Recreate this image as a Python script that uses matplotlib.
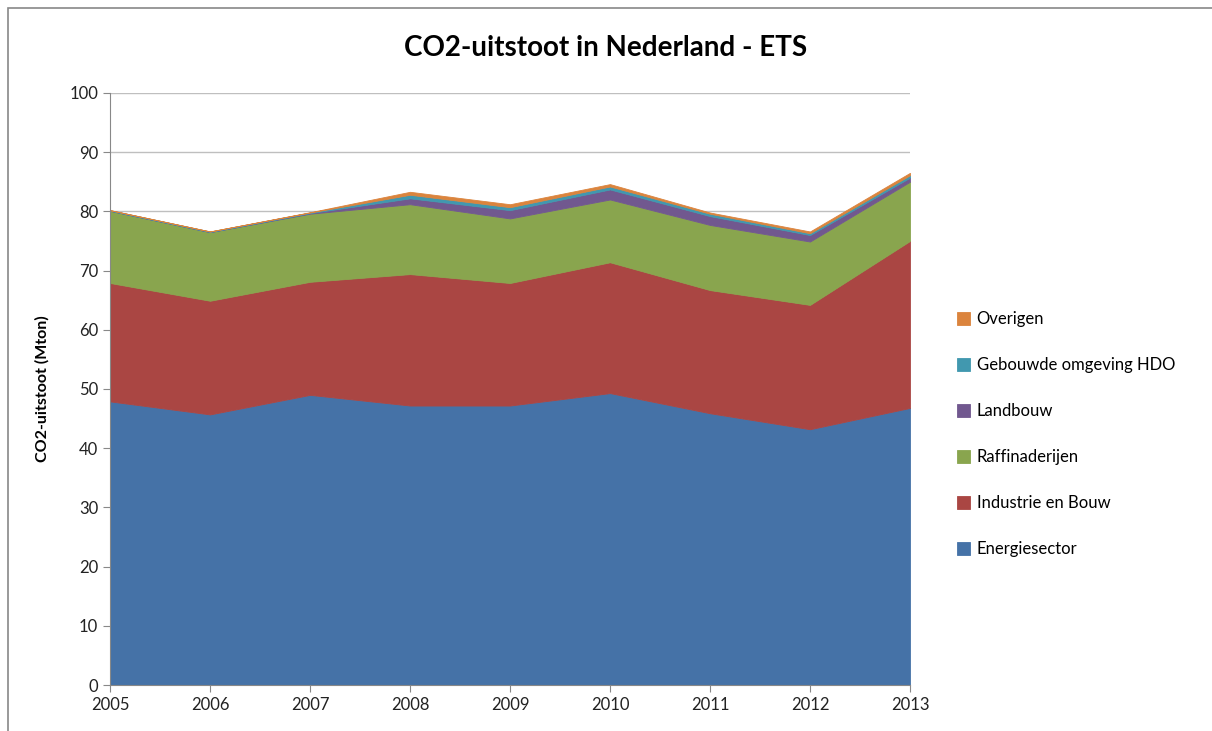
import matplotlib
matplotlib.use("Agg")
import matplotlib.pyplot as plt
from matplotlib.patches import Rectangle

years = [2005, 2006, 2007, 2008, 2009, 2010, 2011, 2012, 2013]

energiesector = [47.9, 45.7, 49.0, 47.2, 47.2, 49.3, 45.9, 43.2, 46.8]
industrie_bouw = [20.0, 19.2, 19.1, 22.2, 20.7, 22.1, 20.8, 21.0, 28.2]
raffinaderijen = [12.2, 11.6, 11.5, 11.8, 10.9, 10.6, 11.0, 10.7, 10.0]
landbouw = [0.0, 0.0, 0.1, 1.0, 1.4, 1.7, 1.5, 1.1, 0.7]
gebouwde_omgeving = [0.1, 0.1, 0.1, 0.6, 0.5, 0.5, 0.4, 0.3, 0.4]
overigen = [0.0, 0.0, 0.05, 0.5, 0.5, 0.4, 0.2, 0.3, 0.4]

labels = ["Energiesector", "Industrie en Bouw", "Raffinaderijen",
          "Landbouw", "Gebouwde omgeving HDO", "Overigen"]
colors = ["#4572A7", "#AA4643", "#89A54E", "#71588F", "#4198AF", "#DB843D"]

plt.rcParams["font.family"] = ["Lato", "DejaVu Sans"]

fig = plt.figure(figsize=(12.12, 7.31), dpi=100)
ax = fig.add_axes([0.0908, 0.0629, 0.66, 0.81])

polys = ax.stackplot(years, energiesector, industrie_bouw, raffinaderijen,
                     landbouw, gebouwde_omgeving, overigen,
                     colors=colors, labels=labels, linewidth=0.6)
for p, c in zip(polys, colors):
    p.set_edgecolor(c)

ax.set_xlim(2005, 2013)
ax.set_ylim(0, 100)
ax.set_yticks(range(0, 101, 10))
ax.set_xticks(years)
ax.grid(axis="y", color="#bfbfbf", linewidth=1)
ax.set_axisbelow(True)
for s in ["top", "right"]:
    ax.spines[s].set_visible(False)
for s in ["left", "bottom"]:
    ax.spines[s].set_color("#888888")
ax.tick_params(axis="both", labelsize=12, colors="#888888", labelcolor="#222222",
               length=5)

ax.set_ylabel("CO2-uitstoot (Mton)", fontsize=11.5, fontweight="bold", labelpad=14)
fig.text(0.5, 0.935, "CO2-uitstoot in Nederland - ETS", ha="center", va="center",
         fontsize=20, fontweight="bold")

handles, lbls = ax.get_legend_handles_labels()
leg = fig.legend(handles[::-1], lbls[::-1], loc="center left",
                 bbox_to_anchor=(0.777, 0.406), frameon=False, fontsize=12,
                 handlelength=0.8, handleheight=0.8, handletextpad=0.4,
                 labelspacing=1.8)

fig.patches.append(Rectangle((0.007, -0.01), 1.1, 0.999, transform=fig.transFigure,
                             fill=False, edgecolor="#888888", linewidth=1.2))

fig.savefig("out.png", dpi=100)
